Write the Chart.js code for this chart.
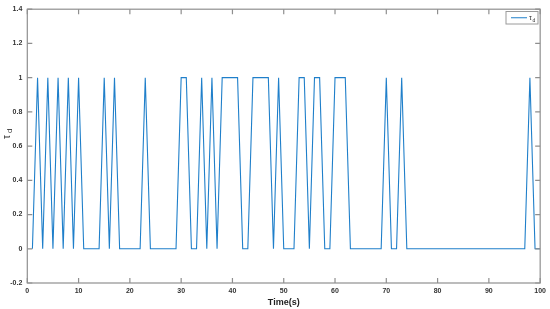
<!DOCTYPE html>
<html>
<head>
<meta charset="utf-8">
<script src="https://cdn.jsdelivr.net/npm/chart.js@4/dist/chart.umd.min.js"></script>
<style>
  html, body { margin: 0; padding: 0; background: #fff; }
  #wrap { width: 550px; height: 309px; position: relative; }
</style>
</head>
<body>
<div id="wrap"><canvas id="chart_td"></canvas></div>
<script>
// tau_d switching signal, sampled once per second

var seconds = [];
for (var i = 1; i <= 100; i++) seconds.push(i);

// 0/1 state, t = 1..100
var tauD = [
  0, 1, 0, 1, 0, 1, 0, 1, 0, 1,   // 1-10
  0, 0, 0, 0, 1, 0, 1, 0, 0, 0,   // 11-20
  0, 0, 1, 0, 0, 0, 0, 0, 0, 1,   // 21-30
  1, 0, 0, 1, 0, 1, 0, 1, 1, 1,   // 31-40
  1, 0, 0, 1, 1, 1, 1, 0, 1, 0,   // 41-50
  0, 0, 1, 1, 0, 1, 1, 0, 0, 1,   // 51-60
  1, 1, 0, 0, 0, 0, 0, 0, 0, 1,   // 61-70
  0, 0, 1, 0, 0, 0, 0, 0, 0, 0,   // 71-80
  0, 0, 0, 0, 0, 0, 0, 0, 0, 0,   // 81-90
  0, 0, 0, 0, 0, 0, 0, 1, 0, 0    // 91-100
];

var xTicks = [0, 10, 20, 30, 40, 50, 60, 70, 80, 90, 100];
var yTicks = [-0.2, 0, 0.2, 0.4, 0.6, 0.8, 1, 1.2, 1.4];

var lineColor = '#1f7fca';
var axisColor = '#8f8f8f';
var textColor = '#333333';
var font = "'Liberation Sans', Arial, sans-serif";

// box, inward ticks on all sides, y title and legend (MATLAB style)
var matlabAxes = {
  id: 'matlabAxes',
  afterDraw: function (chart) {
    var c = chart.ctx, a = chart.chartArea;
    var xs = chart.scales.x, ys = chart.scales.y;
    c.save();
    c.strokeStyle = axisColor;
    c.lineWidth = 1.2;
    c.strokeRect(a.left, a.top, a.right - a.left, a.bottom - a.top);
    c.beginPath();
    xTicks.forEach(function (v) {
      var px = xs.getPixelForValue(v);
      c.moveTo(px, a.bottom); c.lineTo(px, a.bottom - 5);
      c.moveTo(px, a.top); c.lineTo(px, a.top + 5);
    });
    yTicks.forEach(function (v) {
      var py = ys.getPixelForValue(v);
      c.moveTo(a.left, py); c.lineTo(a.left + 5, py);
      c.moveTo(a.right, py); c.lineTo(a.right - 5, py);
    });
    c.stroke();

    // y axis title: tau with subscript d, rotated
    c.fillStyle = textColor;
    c.translate(10, 133);
    c.rotate(-Math.PI / 2);
    c.textBaseline = 'alphabetic';
    c.font = '10px ' + font;
    c.fillText('τ', -6, 0);
    c.font = '8px ' + font;
    c.fillText('d', 0, 2);
    c.setTransform(1, 0, 0, 1, 0, 0);

    // legend box
    var lx = 506, ly = 11.5, lw = 32, lh = 12.5;
    c.fillStyle = '#ffffff';
    c.fillRect(lx, ly, lw, lh);
    c.strokeStyle = '#9a9a9a';
    c.lineWidth = 1;
    c.strokeRect(lx, ly, lw, lh);
    c.strokeStyle = lineColor;
    c.beginPath();
    c.moveTo(lx + 5, ly + lh / 2);
    c.lineTo(lx + 21, ly + lh / 2);
    c.stroke();
    c.fillStyle = textColor;
    c.font = '7px ' + font;
    c.fillText('τ', lx + 23, ly + 8);
    c.font = '5px ' + font;
    c.fillText('d', lx + 26.5, ly + 10);
    c.restore();
  }
};

var ctx = document.getElementById('chart_td').getContext('2d');
var tauChart = new Chart(ctx, {
  type: 'line',
  data: {
    datasets: [{
      label: 'τd',
      data: seconds.map(function (t, i) { return { x: t, y: tauD[i] }; }),
      borderColor: lineColor,
      borderWidth: 1.1,
      pointRadius: 0,
      tension: 0,
      fill: false
    }]
  },
  options: {
    responsive: true,
    maintainAspectRatio: false,
    animation: false,
    layout: { padding: { left: 0, right: 8, top: 5, bottom: 0 } },
    plugins: {
      legend: { display: false },
      tooltip: { enabled: false }
    },
    scales: {
      x: {
        type: 'linear',
        min: 0,
        max: 100,
        afterFit: function (s) { s.height = 26; },
        afterBuildTicks: function (s) { s.ticks = xTicks.map(function (v) { return { value: v }; }); },
        grid: { display: false, drawTicks: false },
        border: { display: false },
        ticks: {
          padding: 4,
          maxRotation: 0,
          color: textColor,
          font: { family: font, size: 7, weight: 'bold' }
        },
        title: {
          display: true,
          text: 'Time(s)',
          color: '#222',
          padding: { top: 0, bottom: 1 },
          font: { family: font, size: 9, weight: 'bold' }
        }
      },
      y: {
        min: -0.2,
        max: 1.4,
        afterFit: function (s) { s.width = 27.3; },
        afterBuildTicks: function (s) { s.ticks = yTicks.map(function (v) { return { value: v }; }); },
        grid: { display: false, drawTicks: false },
        border: { display: false },
        ticks: {
          padding: 5,
          color: textColor,
          font: { family: font, size: 7, weight: 'bold' },
          callback: function (v) { return String(Math.round(v * 10) / 10); }
        }
      }
    }
  },
  plugins: [matlabAxes]
});
</script>
</body>
</html>
